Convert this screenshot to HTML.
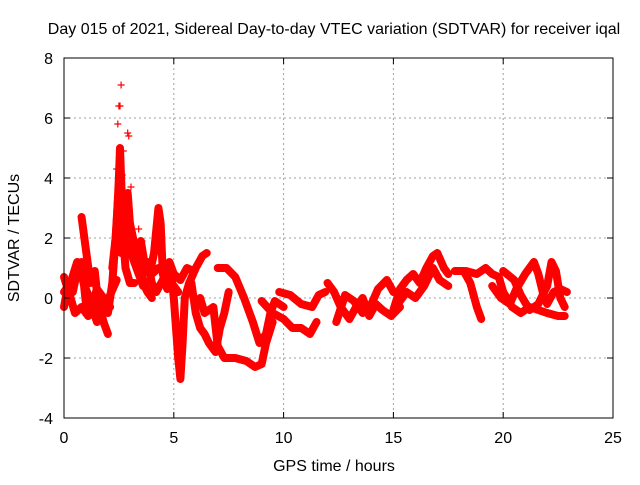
<!DOCTYPE html>
<html><head><meta charset="utf-8"><style>
body{margin:0;background:#fff}
text{font-family:"Liberation Sans",sans-serif;font-size:16px;fill:#000}
</style></head><body>
<svg id="chart" width="640" height="480" xmlns="http://www.w3.org/2000/svg">
<rect width="640" height="480" fill="#fff"/>
<text x="334" y="34" text-anchor="middle">Day 015 of 2021, Sidereal Day-to-day VTEC variation (SDTVAR) for receiver iqal</text>
<text x="334" y="471" text-anchor="middle">GPS time / hours</text>
<text transform="translate(19,238) rotate(-90)" text-anchor="middle">SDTVAR / TECUs</text>
<g id="grid"></g><g id="marks"></g><g id="axes"></g>
</svg>
<script>
const xTicks=[0,5,10,15,20,25];
const yTicks=[-4,-2,0,2,4,6,8];
const arcs=[
[[0,-0.3],[0.2,0.5],[0.4,0.2],[0.6,0.9],[0.8,1.2],[1.0,-0.2],[1.2,-0.4],[1.4,0],[1.6,-0.2],[1.8,-0.8],[2.0,-1.2]],
[[0.8,2.7],[1.0,1.6],[1.2,0.5],[1.4,0.9],[1.6,-0.5],[1.8,-0.8]],
[[0,0.7],[0.3,0.0],[0.5,-0.5],[0.8,-0.3],[1.1,-0.6],[1.5,0.3],[1.8,0.0],[2.1,-0.3]],
[[0,0.2],[0.3,0.5],[0.6,1.2],[0.9,0.5],[1.2,-0.1],[1.5,-0.8],[1.8,-0.5],[2.1,0.1],[2.4,0.6]],
[[2.0,-0.5],[2.2,0.5],[2.3,1.5],[2.4,2.5],[2.5,4.0],[2.55,5.0],[2.6,4.0],[2.7,2.0],[2.8,1.0],[3.0,0.5],[3.2,0.5]],
[[2.2,1.0],[2.35,2.0],[2.45,3.2],[2.6,3.5],[2.75,3.0],[2.9,2.2],[3.1,1.4],[3.3,1.0],[3.6,0.4],[3.9,0.6]],
[[2.6,1.5],[2.8,3.0],[2.9,3.5],[3.0,2.5],[3.2,1.8],[3.4,1.5],[3.6,0.5],[3.8,0.2],[4.0,0.0]],
[[3.5,1.9],[3.7,1.0],[3.9,0.8],[4.1,1.5],[4.3,3.0],[4.4,2.5],[4.5,0.8],[4.7,0.3],[5.0,0.4],[5.2,0.2]],
[[3.8,1.2],[4.0,0.5],[4.2,0.2],[4.5,0.6],[4.8,1.2],[5.0,0.8],[5.3,0.6],[5.6,1.0],[5.9,0.9]],
[[4.0,0.8],[4.3,1.0],[4.6,1.0],[4.9,0.7],[5.0,0.0],[5.1,-1.0],[5.2,-2.0],[5.3,-2.7],[5.4,-1.5],[5.5,0.0],[5.7,0.5],[6.0,1.0],[6.3,1.4],[6.5,1.5]],
[[5.8,0.5],[6.0,-0.5],[6.2,-1.0],[6.4,-1.2],[6.6,-1.5],[6.9,-1.8],[7.1,-1.0],[7.3,-0.5],[7.5,0.2]],
[[6.2,0.0],[6.4,-0.5],[6.8,-0.3],[7.0,-1.6],[7.3,-2.0],[7.8,-2.0],[8.3,-2.1],[8.7,-2.3],[9.0,-2.2],[9.2,-1.5],[9.5,-0.8]],
[[7.0,1.0],[7.4,1.0],[7.8,0.7],[8.2,0.0],[8.6,-0.8],[8.9,-1.5],[9.2,-1.2],[9.4,-0.5],[9.6,-0.1],[10.0,-0.3]],
[[9.0,-0.1],[9.5,-0.5],[10.0,-0.7],[10.4,-1.0],[10.8,-1.0],[11.2,-1.2],[11.5,-0.8]],
[[9.8,0.2],[10.3,0.1],[10.8,-0.2],[11.3,-0.3],[11.6,0.1],[11.9,0.2]],
[[12.0,0.5],[12.3,0.2],[12.6,-0.3],[13.0,-0.7],[13.3,-0.3],[13.6,0.0],[13.9,-0.6],[14.2,-0.2],[14.5,-0.4],[14.9,-0.6],[15.3,-0.3]],
[[12.4,-0.8],[12.8,0.1],[13.2,-0.1],[13.6,-0.5],[14.0,-0.2],[14.3,0.3],[14.7,0.6],[15.0,0.2]],
[[15.0,-0.4],[15.3,0.3],[15.6,0.6],[15.9,0.8],[16.2,0.5],[16.5,1.0],[16.8,1.4],[17.0,1.5],[17.3,1.0],[17.5,0.8]],
[[15.2,-0.2],[15.6,0.2],[16.0,0.0],[16.4,0.4],[16.8,1.0],[17.1,0.6],[17.5,0.4]],
[[17.8,0.9],[18.2,0.9],[18.5,0.5],[18.8,-0.3],[19.0,-0.7]],
[[18.3,0.9],[18.8,0.8],[19.2,1.0],[19.5,0.8],[19.8,0.7],[20.0,0.2],[20.4,-0.3],[20.8,-0.5],[21.2,-0.3],[21.6,-0.4],[22.0,-0.5],[22.5,-0.6],[22.8,-0.6]],
[[19.5,0.4],[19.9,0.0],[20.3,-0.2],[20.6,0.3],[21.0,0.8],[21.4,1.2],[21.6,0.8],[21.8,0.2],[22.0,-0.2],[22.3,0.2],[22.6,0.3],[22.9,0.2]],
[[20.0,0.9],[20.5,0.6],[20.8,0.1],[21.2,-0.4],[21.6,-0.2],[22.0,0.4],[22.2,1.2],[22.4,0.9],[22.6,0.0],[22.8,-0.3]]
];
const outliers=[[2.45,5.8],[2.5,6.4],[2.55,6.4],[2.6,7.1],[2.9,5.5],[2.95,5.4],[2.7,4.9],[2.4,4.3],[2.65,4.1],[3.05,3.7],[3.4,2.3],[3.55,1.9]];
const X0=64,X1=613,Y0=418,Y1=58;
const xs=t=>X0+(t-0)/(25-0)*(X1-X0);
const ys=v=>Y0-(v+4)/(12)*(Y0-Y1);
const NS="http://www.w3.org/2000/svg";
function mk(tag,attrs,parent){const e=document.createElementNS(NS,tag);for(const k in attrs)e.setAttribute(k,attrs[k]);parent.appendChild(e);return e;}
const grid=document.getElementById('grid'),marks=document.getElementById('marks'),axes=document.getElementById('axes');
xTicks.forEach(t=>{
 if(t>0&&t<25){const g=mk('line',{x1:xs(t),x2:xs(t),y1:Y1,y2:Y0,stroke:'#a0a0a0','stroke-dasharray':'2,3'},grid);
 
 }
 const l=mk('text',{x:xs(t),y:Y0+25,'text-anchor':'middle'},axes);l.textContent=t;
 
 
 mk('line',{x1:xs(t),x2:xs(t),y1:Y0,y2:Y0-6,stroke:'#000'},axes);
 mk('line',{x1:xs(t),x2:xs(t),y1:Y1,y2:Y1+6,stroke:'#000'},axes);
});
yTicks.forEach(v=>{
 if(v>-4&&v<8){const g=mk('line',{x1:X0,x2:X1,y1:ys(v),y2:ys(v),stroke:'#a0a0a0','stroke-dasharray':'2,3'},grid);
 
 }
 const l=mk('text',{x:X0-11,y:ys(v)+6,'text-anchor':'end'},axes);l.textContent=v;
 
 
 mk('line',{x1:X0,x2:X0+6,y1:ys(v),y2:ys(v),stroke:'#000'},axes);
 mk('line',{x1:X1,x2:X1-6,y1:ys(v),y2:ys(v),stroke:'#000'},axes);
});
const fr=mk('rect',{x:X0,y:Y1,width:X1-X0,height:Y0-Y1,fill:'none',stroke:'#000'},axes);


function plus(t,v,name){const g=mk('path',{d:`M${xs(t)-3.5},${ys(v)}h7M${xs(t)},${ys(v)-3.5}v7`,stroke:'#f00','stroke-width':1.2},marks);
 
 }
arcs.forEach((arc,i)=>{
 const p=mk('polyline',{points:arc.map(d=>xs(d[0])+','+ys(d[1])).join(' '),fill:'none',stroke:'#f00','stroke-width':8,'stroke-linejoin':'round','stroke-linecap':'round'},marks);
 
 
 arc.forEach(d=>plus(d[0],d[1],'sdtvar-point'));
});
outliers.forEach(d=>plus(d[0],d[1],'sdtvar-outlier'));
</script>
</body></html>
